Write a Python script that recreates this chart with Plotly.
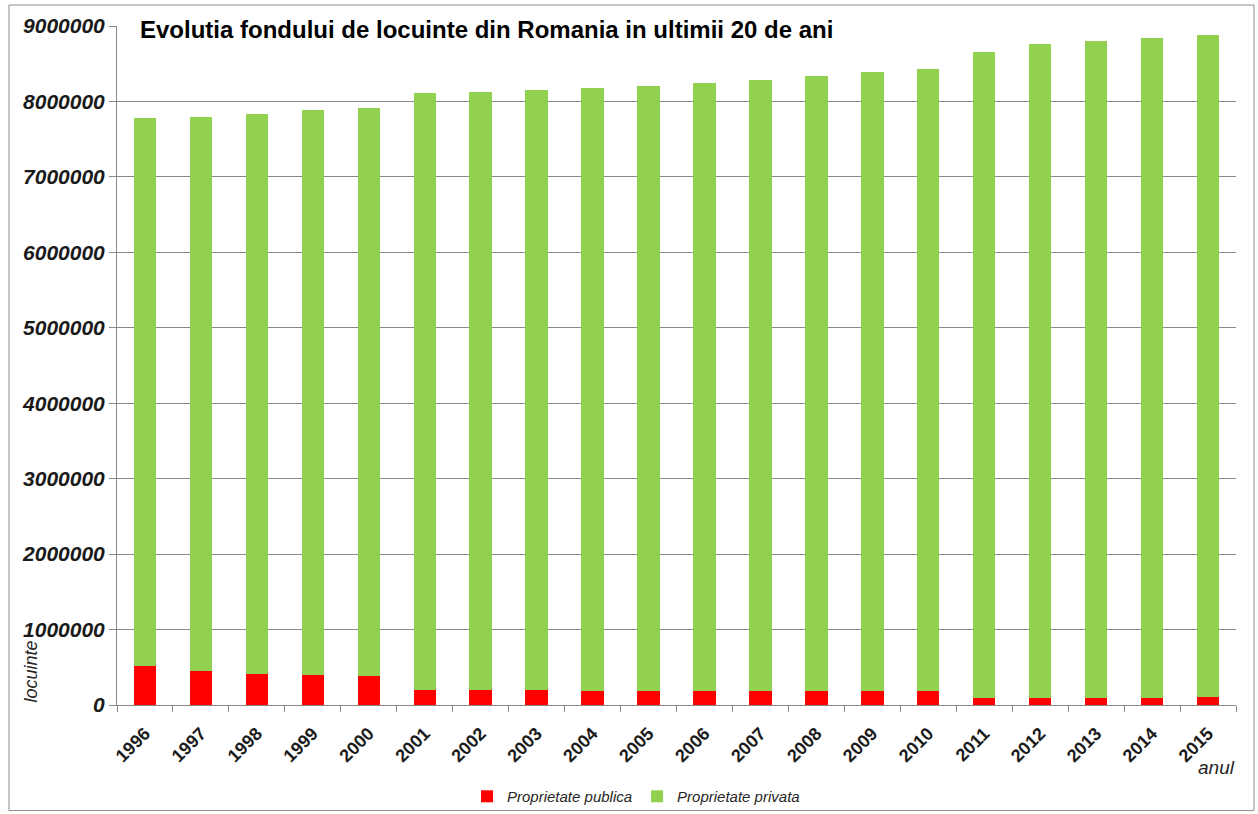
import plotly.graph_objects as go

years = [str(y) for y in range(1996, 2016)]
total = [7775000, 7800000, 7830000, 7885000, 7910000, 8114000, 8127000, 8154000, 8180000, 8207000,
         8238000, 8278000, 8331000, 8388000, 8428000, 8657000, 8763000, 8803000, 8843000, 8887000]
publica = [517000, 445000, 410000, 392000, 379000, 203000, 203000, 203000, 190000, 190000,
           190000, 190000, 190000, 190000, 190000, 97000, 97000, 97000, 97000, 110000]
privata = [t - p for t, p in zip(total, publica)]
yticks = list(range(0, 9000001, 1000000))

FONT = "Liberation Sans"
W, H = 1258, 814
L, R, T, B = 117, 22, 26, 108.6
pw, ph = W - L - R, H - T - B


def px(x):
    return (x - L) / pw


def py(y):
    return (H - B - y) / ph


fig = go.Figure()
fig.add_trace(go.Bar(x=years, y=publica, name="Proprietate publica",
                     marker=dict(color="#FF0000", line=dict(width=0))))
fig.add_trace(go.Bar(x=years, y=privata, name="Proprietate privata",
                     marker=dict(color="#92D050", line=dict(width=0))))

fig.update_layout(
    barmode="stack",
    bargap=0.6,
    width=W, height=H,
    margin=dict(l=L, r=R, t=T, b=B, autoexpand=False),
    plot_bgcolor="white", paper_bgcolor="white",
    font=dict(family=FONT, color="#1a1a1a"),
    legend=dict(orientation="h", x=px(636), xanchor="center", y=py(797), yanchor="middle",
                traceorder="normal", bgcolor="rgba(0,0,0,0)",
                font=dict(family=FONT, size=15, style="italic", color="#262626"),
                itemwidth=30, tracegroupgap=0),
    xaxis=dict(type="category", tickangle=-45, ticks="outside", tickson="boundaries",
               ticklen=6, tickcolor="#888888", showline=True, linecolor="#888888",
               showgrid=False, automargin=False, ticklabelstandoff=10,
               tickfont=dict(family=FONT, size=18, weight="bold", color="#1a1a1a")),
    yaxis=dict(range=[0, 9000000], tickvals=yticks, tickformat="d", ticks="outside",
               ticklen=7, tickcolor="#888888", showline=True, linecolor="#888888",
               showgrid=True, gridcolor="#888888", gridwidth=1, zeroline=False,
               automargin=False,
               tickfont=dict(family=FONT, size=21, weight="bold", style="italic", color="#1a1a1a")),
)

# white box hiding the top gridline behind the title
fig.add_shape(type="rect", xref="paper", yref="y", x0=px(119), x1=px(1009),
              y0=8930000, y1=9080000, fillcolor="white", line=dict(width=0), layer="above")

# outer border
fig.add_shape(type="rect", xref="paper", yref="paper", x0=px(9), x1=px(1254),
              y0=py(811), y1=py(5), line=dict(color="#8c8c8c", width=1), fillcolor="rgba(0,0,0,0)")

fig.add_annotation(text="Evolutia fondului de locuinte din Romania in ultimii 20 de ani",
                   xref="paper", yref="paper", x=px(138), y=py(30), xanchor="left", yanchor="middle",
                   showarrow=False, font=dict(family=FONT, size=24, weight="bold", color="#000000"))
fig.add_annotation(text="locuinte", xref="paper", yref="paper", x=px(31), y=py(672),
                   xanchor="center", yanchor="middle", textangle=-90, showarrow=False,
                   font=dict(family=FONT, size=18, style="italic", color="#262626"))
fig.add_annotation(text="anul", xref="paper", yref="paper", x=px(1216), y=py(768),
                   xanchor="center", yanchor="middle", showarrow=False,
                   font=dict(family=FONT, size=19, style="italic", color="#262626"))

fig.write_html("out.html", config={"displayModeBar": False},
               post_script="document.body.style.margin='0';")
